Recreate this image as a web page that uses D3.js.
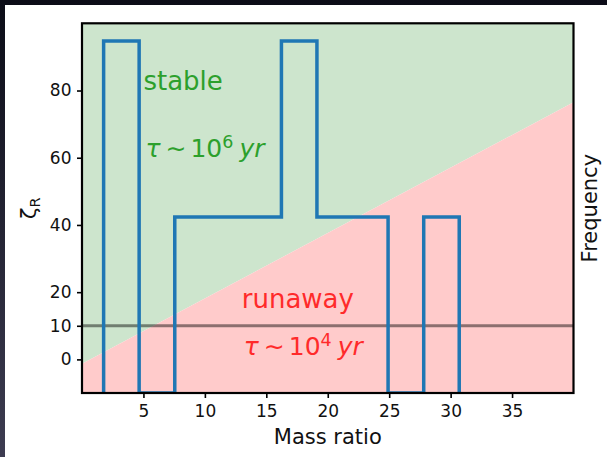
<!DOCTYPE html>
<html>
<head>
<meta charset="utf-8">
<script src="https://cdn.jsdelivr.net/npm/d3@7"></script>
<style>
  html, body { margin: 0; padding: 0; }
  body {
    width: 607px; height: 457px; overflow: hidden;
    background: linear-gradient(to bottom, #0b0c17, #3d3c51);
  }
  svg { display: block; font-family: "DejaVu Sans", sans-serif; }
</style>
</head>
<body>
<div id="chart"></div>
<script>
// histogram of mass ratios (step outline)
const binEdges = [1.76, 4.65, 7.55, 10.44, 13.34, 16.23, 19.12, 22.02, 24.91, 27.81, 30.70];
const binCounts = [2, 0, 1, 1, 1, 2, 1, 1, 0, 1];

// boundary between stable / runaway regions (zeta_R vs mass ratio)
const boundaryQ = [0, 40];
const boundaryZeta = [-1.3, 76.5];

const massTicks = [5, 10, 15, 20, 25, 30, 35];
const zetaTicks = [0, 10, 20, 40, 60, 80];
const zetaRef = 10;

const regionLabels = [
    { name: 'stable', q: 5, zeta: 80.2, exp: 6, tauZeta: 60.3 },
    { name: 'runaway', q: 13, zeta: 15.2, exp: 4, tauZeta: 1.3 }
];

const W = 607, H = 457;
const plot = { left: 82, right: 573.5, top: 23.3, bottom: 393 };

const svg = d3.select('#chart').append('svg')
    .attr('width', W)
    .attr('height', H);

svg.append('rect')
    .attr('x', 5).attr('y', 5)
    .attr('width', W - 5).attr('height', H - 5)
    .attr('fill', 'white');

const x = d3.scaleLinear().domain([0, 40]).range([plot.left, plot.right]);
const y = d3.scaleLinear().domain([-10, 100]).range([plot.bottom, plot.top]);
const yFreq = d3.scaleLinear().domain([0, 2.1]).range([plot.bottom, plot.top]);

svg.append('clipPath').attr('id', 'clip')
    .append('rect')
    .attr('x', plot.left).attr('y', plot.top)
    .attr('width', plot.right - plot.left)
    .attr('height', plot.bottom - plot.top);

const area = svg.append('g').attr('clip-path', 'url(#clip)');

const [y0, y1] = y.domain();
const stablePts = [[boundaryQ[0], boundaryZeta[0]], [boundaryQ[1], boundaryZeta[1]], [boundaryQ[1], y1], [boundaryQ[0], y1]];
const runawayPts = [[boundaryQ[0], y0], [boundaryQ[1], y0], [boundaryQ[1], boundaryZeta[1]], [boundaryQ[0], boundaryZeta[0]]];

const poly = pts => 'M' + pts.map(p => `${x(p[0])},${y(p[1])}`).join('L') + 'Z';

area.append('path').attr('d', poly(stablePts)).attr('fill', '#cde5cd');
area.append('path').attr('d', poly(runawayPts)).attr('fill', '#ffcbcb');

// reference line at zeta = 10
area.append('line')
    .attr('x1', plot.left).attr('x2', plot.right)
    .attr('y1', y(zetaRef)).attr('y2', y(zetaRef))
    .attr('stroke', 'black')
    .attr('stroke-opacity', 0.45)
    .attr('stroke-width', 3);

// step histogram
let stepPts = [[binEdges[0], 0]];
binCounts.forEach((c, i) => {
    stepPts.push([binEdges[i], c]);
    stepPts.push([binEdges[i + 1], c]);
});
stepPts.push([binEdges[binEdges.length - 1], 0]);

const stepLine = d3.line().x(d => x(d[0])).y(d => yFreq(d[1]));

area.append('path')
    .attr('d', stepLine(stepPts))
    .attr('fill', 'none')
    .attr('stroke', '#1f77b4')
    .attr('stroke-width', 3.5)
    .attr('stroke-linejoin', 'miter');

// region labels
const colors = { stable: '#2ca02c', runaway: '#ff2a2a' };

regionLabels.forEach(d => {
    const c = colors[d.name];
    svg.append('text')
        .attr('x', x(d.q)).attr('y', y(d.zeta))
        .attr('fill', c)
        .style('font-size', '26px')
        .text(d.name);

    const t = svg.append('text')
        .attr('x', x(d.q) + 2).attr('y', y(d.tauZeta))
        .attr('fill', c)
        .style('font-size', '25px');
    t.append('tspan').style('font-style', 'italic').text('τ');
    t.append('tspan').attr('dx', 5).text('∼');
    t.append('tspan').attr('dx', 4).text('10');
    t.append('tspan').attr('dy', -9).style('font-size', '17.5px').text(d.exp);
    t.append('tspan').attr('dy', 9).attr('dx', 6).style('font-style', 'italic').text('yr');
});

// axes
const xAxis = svg.append('g')
    .attr('transform', `translate(0,${plot.bottom})`)
    .call(d3.axisBottom(x).tickValues(massTicks).tickSize(5).tickPadding(7).tickFormat(d3.format('d')));

const yAxis = svg.append('g')
    .attr('transform', `translate(${plot.left},0)`)
    .call(d3.axisLeft(y).tickValues(zetaTicks).tickSize(5).tickPadding(5.5).tickFormat(d3.format('d')));

[xAxis, yAxis].forEach(g => {
    g.select('.domain').remove();
    g.selectAll('.tick line').attr('stroke', 'black').attr('stroke-width', 1.6);
    g.selectAll('.tick text')
        .attr('fill', '#111')
        .style('font-family', '"DejaVu Sans", sans-serif')
        .style('font-size', '17px');
});

// spines
svg.append('rect')
    .attr('x', plot.left).attr('y', plot.top)
    .attr('width', plot.right - plot.left)
    .attr('height', plot.bottom - plot.top)
    .attr('fill', 'none')
    .attr('stroke', 'black')
    .attr('stroke-width', 2.2);

// axis titles
svg.append('text')
    .attr('x', (plot.left + plot.right) / 2)
    .attr('y', 444)
    .attr('text-anchor', 'middle')
    .attr('fill', '#111')
    .style('font-size', '21px')
    .text('Mass ratio');

const yMid = (plot.top + plot.bottom) / 2;

const zl = svg.append('text')
    .attr('transform', `translate(36,${yMid}) rotate(-90)`)
    .attr('text-anchor', 'middle')
    .attr('fill', '#111')
    .style('font-size', '21px');
zl.append('tspan').text('ζ');
zl.append('tspan').attr('dy', 4).style('font-size', '14.5px').text('R');

svg.append('text')
    .attr('transform', `translate(597,${yMid}) rotate(-90)`)
    .attr('text-anchor', 'middle')
    .attr('fill', '#111')
    .style('font-size', '21px')
    .text('Frequency');
</script>
</body>
</html>
